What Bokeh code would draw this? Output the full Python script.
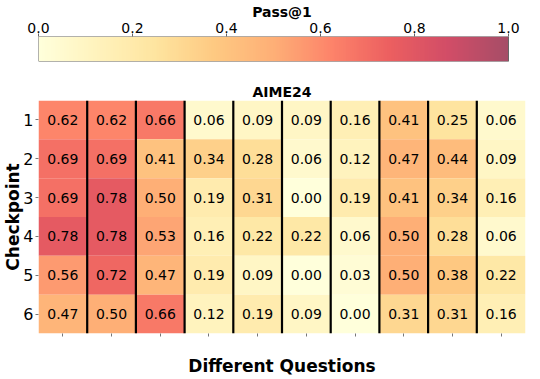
import numpy as np
from bokeh.plotting import figure
from bokeh.layouts import column
from bokeh.models import ColumnDataSource, LinearColorMapper, FixedTicker, Range1d
from bokeh.transform import linear_cmap
from bokeh.core.properties import value
from bokeh.embed import file_html
from bokeh.resources import INLINE

# ---- data ----
checkpoints = [1, 2, 3, 4, 5, 6]
questions = [1, 2, 3, 4, 5, 6, 7, 8, 9, 10]
row1 = [0.62, 0.62, 0.66, 0.06, 0.09, 0.09, 0.16, 0.41, 0.25, 0.06]
row2 = [0.69, 0.69, 0.41, 0.34, 0.28, 0.06, 0.12, 0.47, 0.44, 0.09]
row3 = [0.69, 0.78, 0.50, 0.19, 0.31, 0.00, 0.19, 0.41, 0.34, 0.16]
row4 = [0.78, 0.78, 0.53, 0.16, 0.22, 0.22, 0.06, 0.50, 0.28, 0.06]
row5 = [0.56, 0.72, 0.47, 0.19, 0.09, 0.00, 0.03, 0.50, 0.38, 0.22]
row6 = [0.47, 0.50, 0.66, 0.12, 0.19, 0.09, 0.00, 0.31, 0.31, 0.16]
rows = [row1, row2, row3, row4, row5, row6]
cbar_ticks = [0.0, 0.2, 0.4, 0.6, 0.8, 1.0]

FONT = "DejaVu Sans"

# YlOrRd colormap, blended with white (alpha 0.7)
base = ["#ffffcc", "#ffeda0", "#fed976", "#feb24c", "#fd8d3c",
        "#fc4e2a", "#e31a1c", "#bd0026", "#800026"]
alpha = 0.7
def h2rgb(h):
    return np.array([int(h[i:i + 2], 16) for i in (1, 3, 5)], dtype=float)
anchors = np.array([h2rgb(c) for c in base])
pos = np.linspace(0, 1, len(base))
palette = []
for t in np.linspace(0, 1, 256):
    rgb = [np.interp(t, pos, anchors[:, k]) for k in range(3)]
    rgb = [alpha * c + (1 - alpha) * 255 for c in rgb]
    palette.append("#%02x%02x%02x" % tuple(int(round(c)) for c in rgb))

# colorbar spans a bit less than the heatmap frame width (ratio from reference)
cbar_extent = 487.0 / 470.0

# ---- colorbar figure ----
p1 = figure(width=540, height=80, output_backend="svg", toolbar_location=None,
            x_range=Range1d(0, cbar_extent), y_range=Range1d(0, 1),
            x_axis_location="above", min_border_left=38, min_border_right=15,
            min_border_top=0, min_border_bottom=19)
mapper = LinearColorMapper(palette=palette, low=0, high=1)
p1.image(image=[np.linspace(0, 1, 256).reshape(1, -1)], x=0, y=0, dw=1, dh=1,
         color_mapper=mapper)
p1.quad(left=[0], right=[1], bottom=[0], top=[1], fill_color=None,
        line_color="#666666", line_width=1)
p1.yaxis.visible = False
p1.grid.visible = False
p1.outline_line_color = None
ax = p1.xaxis[0]
ax.ticker = FixedTicker(ticks=cbar_ticks)
ax.major_label_overrides = {t: "%.1f" % t for t in cbar_ticks}
ax.minor_tick_line_color = None
ax.axis_line_color = None
ax.major_tick_in = 0
ax.major_tick_out = 3
ax.major_tick_line_color = "#666666"
ax.major_label_standoff = 1
ax.major_label_text_font = FONT
ax.major_label_text_font_size = "14px"
ax.major_label_text_color = "black"
ax.axis_label = "Pass@1"
ax.axis_label_text_font = FONT
ax.axis_label_text_font_style = "bold"
ax.axis_label_text_font_size = "14px"
ax.axis_label_standoff = 0
ax.axis_label_text_color = "black"

# ---- heatmap figure ----
xs, ys, vals, labels = [], [], [], []
for ci, r in zip(checkpoints, rows):
    for qi, v in zip(questions, r):
        xs.append(qi)
        ys.append(ci)
        vals.append(v)
        labels.append("%.2f" % v)
src = ColumnDataSource(dict(x=xs, y=ys, v=vals, label=labels))

p2 = figure(width=540, height=299, output_backend="svg", toolbar_location=None,
            x_range=Range1d(0.5, len(questions) + 0.5),
            y_range=Range1d(len(checkpoints) + 0.5, 0.5),
            min_border_left=38, min_border_right=15, min_border_top=0,
            min_border_bottom=46)
p2.title.text = "AIME24"
p2.title.align = "center"
p2.title.text_font = FONT
p2.title.text_font_style = "bold"
p2.title.text_font_size = "14px"
p2.title.text_color = "black"
p2.title.standoff = 2
p2.rect(x="x", y="y", width=1, height=1, source=src,
        fill_color=linear_cmap("v", palette, 0, 1), line_color=None)
p2.text(x="x", y="y", text="label", source=src, text_align="center",
        text_baseline="middle", text_font=value(FONT),
        text_font_size="14px", text_color="black")
bounds = [q + 0.5 for q in questions[:-1]]
p2.segment(x0=bounds, x1=bounds, y0=[0.5] * len(bounds),
           y1=[len(checkpoints) + 0.5] * len(bounds),
           line_color="black", line_width=2.2)
p2.grid.visible = False
p2.outline_line_color = None

xa = p2.xaxis[0]
xa.ticker = FixedTicker(ticks=questions)
xa.major_label_overrides = {q: "" for q in questions}
xa.major_label_standoff = 0
xa.axis_line_color = None
xa.minor_tick_line_color = None
xa.major_tick_in = 0
xa.major_tick_out = 3
xa.major_tick_line_color = "#777777"
xa.axis_label = "Different Questions"
xa.axis_label_text_font = FONT
xa.axis_label_text_font_style = "bold"
xa.axis_label_text_font_size = "17px"
xa.axis_label_text_color = "black"
xa.axis_label_standoff = 19

ya = p2.yaxis[0]
ya.ticker = FixedTicker(ticks=checkpoints)
ya.major_label_text_font = FONT
ya.major_label_text_font_size = "16px"
ya.major_label_text_color = "black"
ya.major_label_standoff = 2
ya.axis_line_color = None
ya.minor_tick_line_color = None
ya.major_tick_in = 0
ya.major_tick_out = 3
ya.major_tick_line_color = "#777777"
ya.axis_label = "Checkpoint"
ya.axis_label_text_font = FONT
ya.axis_label_text_font_style = "bold"
ya.axis_label_text_font_size = "17px"
ya.axis_label_text_color = "black"
ya.axis_label_standoff = -3

layout = column(p1, p2, spacing=0)
open("out.html", "w").write(file_html(layout, INLINE))
